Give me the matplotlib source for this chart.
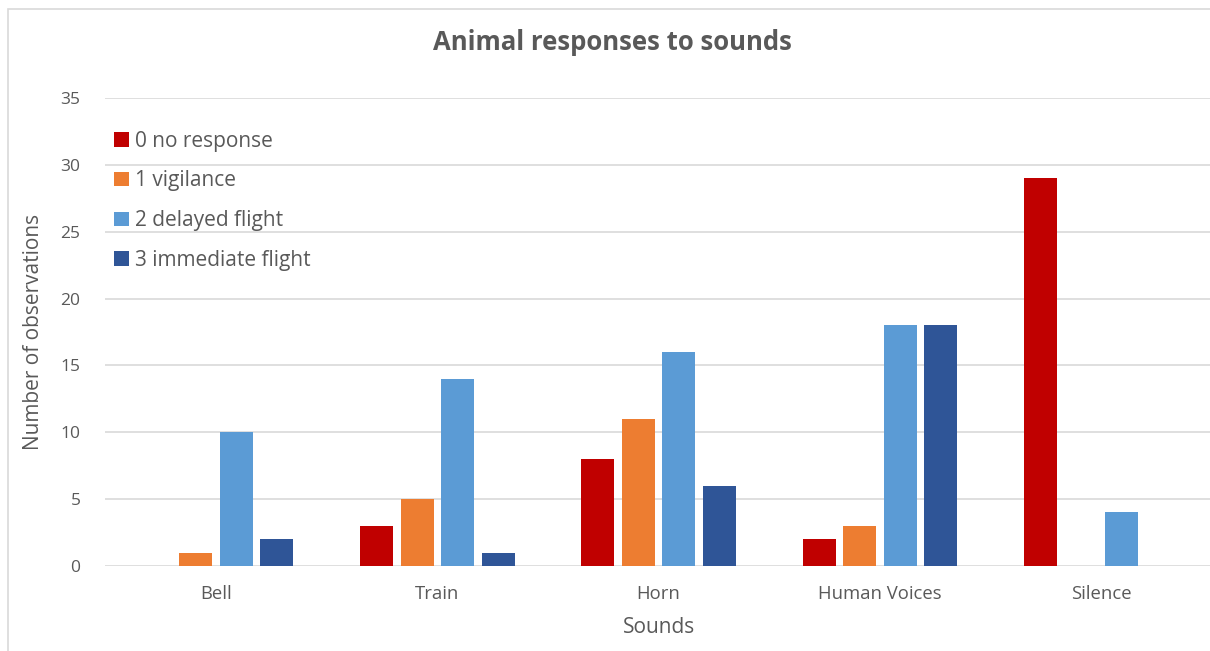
import numpy as np
import matplotlib.pyplot as plt
from matplotlib.patches import Rectangle

plt.rcParams['font.family'] = ['Open Sans', 'DejaVu Sans']

sounds = ['Bell', 'Train', 'Horn', 'Human Voices', 'Silence']
responses = ['0 no response', '1 vigilance', '2 delayed flight', '3 immediate flight']
no_response = [0, 3, 8, 2, 29]
vigilance = [1, 5, 11, 3, 0]
delayed_flight = [10, 14, 16, 18, 4]
immediate_flight = [2, 1, 6, 18, 0]
colors = ['#C00000', '#ED7D31', '#5B9BD5', '#2F5597']

series = [no_response, vigilance, delayed_flight, immediate_flight]
text_col = '#595959'

fig = plt.figure(figsize=(12.1, 6.51), dpi=100)
ax = fig.add_axes([0.0871, 0.1306, 0.9145, 0.7189])

x = np.arange(len(sounds))
step = 0.183
width = 0.149
for i, (vals, name, c) in enumerate(zip(series, responses, colors)):
    ax.bar(x + (i - 1.5) * step, vals, width, color=c, label=name, zorder=3)

ax.set_xlim(-0.5, len(sounds) - 0.5)
ax.set_ylim(0, 35)
ax.set_yticks(range(0, 36, 5))
ax.set_xticks(x)
ax.set_xticklabels(sounds)
ax.grid(axis='y', color='#D9D9D9', linewidth=1.2, zorder=0)
for s in ax.spines.values():
    s.set_visible(False)
ax.tick_params(length=0, colors=text_col)
ax.tick_params(axis='y', pad=18, labelsize=12.5)
ax.tick_params(axis='x', pad=14, labelsize=13.3)

ax.set_xlabel('Sounds', fontsize=15, color=text_col, labelpad=10)
ax.set_ylabel('Number of observations', fontsize=15, color=text_col, labelpad=12)
fig.text(0.506, 0.935, 'Animal responses to sounds', ha='center', va='center',
         fontsize=18.5, fontweight='bold', color=text_col)

leg = ax.legend(loc='upper left', bbox_to_anchor=(0.079, 0.828),
                bbox_transform=fig.transFigure, frameon=False,
                fontsize=15, handlelength=0.7, handleheight=0.7,
                handletextpad=0.3, labelspacing=0.9)
for t in leg.get_texts():
    t.set_color(text_col)

# chart border
fig.patches.append(Rectangle((8 / 1210, -0.1), 1.2, 1.1 - 9 / 651,
                             transform=fig.transFigure, fill=False,
                             edgecolor='#D9D9D9', linewidth=1.2))

fig.savefig('out.png', dpi=100)
